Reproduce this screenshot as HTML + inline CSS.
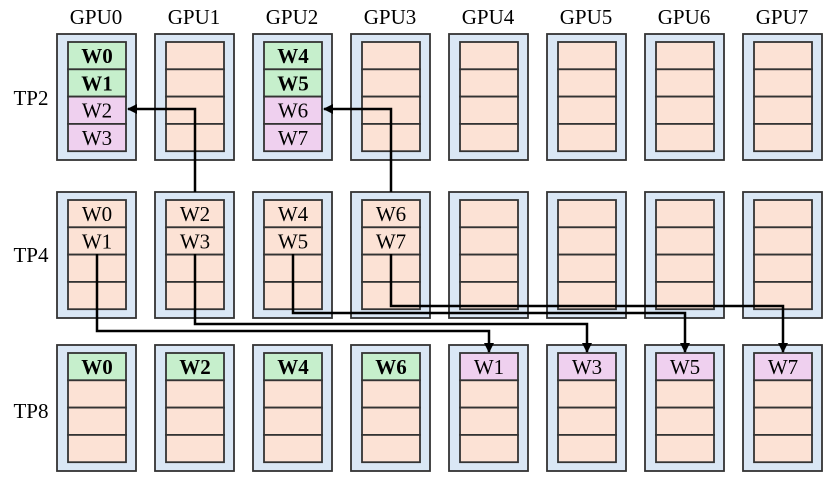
<!DOCTYPE html>
<html><head><meta charset="utf-8"><style>body{margin:0;background:#fff}</style></head><body>
<svg width="830" height="477" xmlns="http://www.w3.org/2000/svg" font-family="Liberation Serif, serif">
<defs><marker id="a" markerWidth="10" markerHeight="10" refX="9" refY="5" orient="auto" markerUnits="userSpaceOnUse"><path d="M0,0 L10,5 L0,10 z" fill="#000"/></marker></defs>
<g font-size="21" text-anchor="middle">
<text x="96" y="24">GPU0</text><text x="194" y="24">GPU1</text><text x="292" y="24">GPU2</text><text x="390" y="24">GPU3</text><text x="488" y="24">GPU4</text><text x="586" y="24">GPU5</text><text x="684" y="24">GPU6</text><text x="782" y="24">GPU7</text>
<text x="31" y="105">TP2</text><text x="31" y="262">TP4</text><text x="31" y="418">TP8</text>
</g>
<g id="boxes" stroke="#333" stroke-width="1.8">
</g>
<script>
var g=document.getElementById('boxes'),ns='http://www.w3.org/2000/svg';
function el(t,a,txt){var e=document.createElementNS(ns,t);for(var k in a)e.setAttribute(k,a[k]);if(txt)e.textContent=txt;g.appendChild(e);return e;}
var G='#c6efcc',P='#efd0ef',O='#fce2d5';
var rows=[
 {y:34,c:[[['W0',G,1],['W1',G,1],['W2',P],['W3',P]],0,[['W4',G,1],['W5',G,1],['W6',P],['W7',P]],0,0,0,0,0]},
 {y:192,c:[[['W0',O],['W1',O]],[['W2',O],['W3',O]],[['W4',O],['W5',O]],[['W6',O],['W7',O]],0,0,0,0]},
 {y:345,c:[[['W0',G,1]],[['W2',G,1]],[['W4',G,1]],[['W6',G,1]],[['W1',P]],[['W3',P]],[['W5',P]],[['W7',P]]]}
];
rows.forEach(function(r){for(var i=0;i<8;i++){var x=57+98*i;
 el('rect',{x:x,y:r.y,width:79,height:126,fill:'#dae7f5'});
 var cells=r.c[i]||[];
 for(var j=0;j<4;j++){var c=cells[j]||['',O];var cy=r.y+8+27.3*j;
  el('rect',{x:x+11,y:cy,width:58,height:27.3,fill:c[1]});
  if(c[0]){el('text',{x:x+40,y:cy+21,'text-anchor':'middle','font-size':'21',stroke:'none',fill:'#000','font-weight':c[2]?'bold':'normal'},c[0]);}
 }}});
</script>
<g stroke="#000" stroke-width="2.5" fill="none">
<path d="M195,192 V109 H128" marker-end="url(#a)"/>
<path d="M391,192 V109 H324" marker-end="url(#a)"/>
<path d="M97,254 V331 H489 V352" marker-end="url(#a)"/>
<path d="M195,254 V324 H587 V352" marker-end="url(#a)"/>
<path d="M293,254 V313 H685 V352" marker-end="url(#a)"/>
<path d="M391,254 V306 H783 V352" marker-end="url(#a)"/>
</g>
</svg>
</body></html>
